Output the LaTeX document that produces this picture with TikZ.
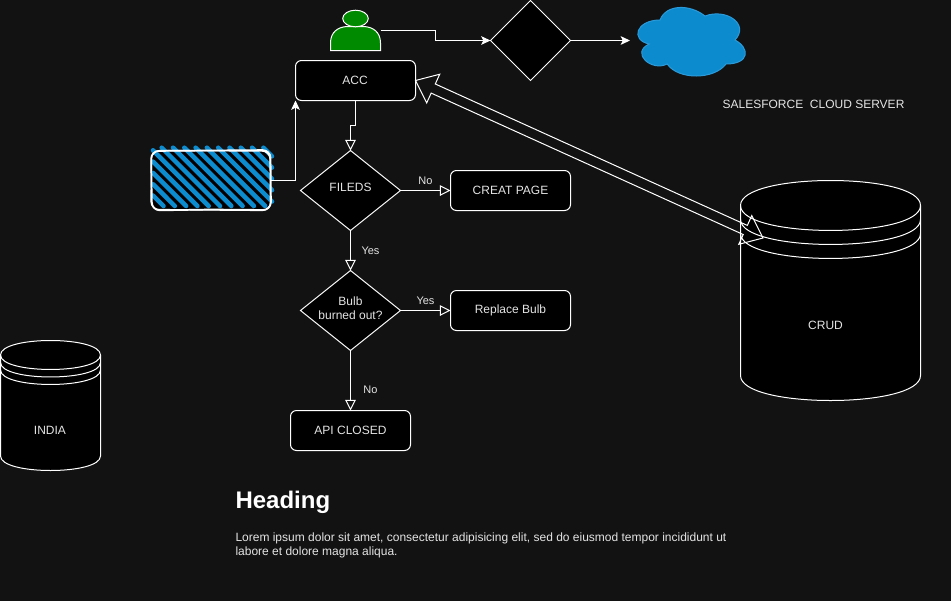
\documentclass[tikz,border=0pt]{standalone}
\usepackage{xcolor}
\usepackage{fontspec}
\setmainfont{Liberation Sans}
\usepackage{tikz}
\usetikzlibrary{arrows.meta, calc, shapes.geometric}
\definecolor{pagebg}{HTML}{121212}
\definecolor{labeltext}{HTML}{E4E4E4}
\definecolor{hatchblue}{HTML}{0C8CCF}
\definecolor{cloudline}{HTML}{2A9ADA}
\definecolor{usergreen}{HTML}{008A00}
\newcommand{\dbshape}[6]{
\begin{scope}[shift={(#1,#2)}]
\draw[dbline] (0,#5) .. controls (0,-#5/3) and (#3,-#5/3) .. (#3,#5) -- (#3,#4-#5) .. controls (#3,#4+#5/3) and (0,#4+#5/3) .. (0,#4-#5) -- cycle;
\foreach \n in {0,1,2}
  \draw[dbline, fill=none] (0,#5+\n*#6) .. controls (0,#5*2.33+\n*#6) and (#3,#5*2.33+\n*#6) .. (#3,#5+\n*#6);
\end{scope}
}

\begin{document}
\begin{tikzpicture}[x=.75pt, y=-.75pt, line width=.75pt]
\tikzstyle{txt}=[text=labeltext, font=\fontsize{9}{10.5}\selectfont, inner sep=0pt]
\tikzstyle{elabel}=[text=labeltext, font=\fontsize{8.25}{9.5}\selectfont, inner sep=0pt]
\tikzstyle{stepbox}=[txt, rectangle, rounded corners=4.5pt, draw=white, fill=black, minimum width=90pt, minimum height=30pt, outer sep=0pt]
\tikzstyle{decision}=[diamond, draw=white, fill=black, minimum width=75pt, minimum height=60pt, inner sep=0pt, outer sep=0pt]
\tikzstyle{dtext}=[txt, align=center, yshift=2pt]
\tikzstyle{dbline}=[draw=white, fill=black]
\tikzstyle{flow}=[-{Triangle[open, length=8pt, width=8pt]}, draw=white]
\tikzstyle{solidflow}=[-{Stealth[length=7pt, width=6.5pt, inset=1.6pt]}, draw=white, fill=none]
\tikzstyle{flexline}=[draw=white, line join=miter]

\fill[pagebg] (0,0) rectangle (951,601);
\useasboundingbox (0,0) rectangle (951,601);

\dbshape{740.5}{180.5}{180}{220}{25}{14}
\dbshape{0.5}{340.5}{100}{130}{14.5}{7.5}

\node[txt] (crud) at (825.5,325) {CRUD};
\node[txt] (india) at (50,430) {INDIA};

\node[stepbox] (acc) at (355.5,80.5) {\hspace{-.75pt}ACC};
\node[stepbox] (creat) at (510.5,190.5) {CREAT PAGE};
\node[stepbox] (replace) at (510.5,310.5) {Replace Bulb};
\node[stepbox] (api) at (350.5,430.5) {API CLOSED};
\node[decision, label={[dtext]center:FILEDS}] (fileds) at (350.5,190.5) {};
\node[decision, label={[dtext]center:{Bulb\\burned out?}}] (bulb) at (350.5,310.5) {};
\node[decision, minimum width=60pt] (gate) at (530.5,40.5) {};

\node[rectangle, minimum width=37.5pt, minimum height=30pt, inner sep=0pt, outer sep=0pt] (user) at (355.5,30.5) {};
\draw[draw=white, fill=usergreen] (330.5,50.5) -- (330.5,43) .. controls (330.5,32) and (338,27) .. (347,26.5) -- (364,26.5) .. controls (373,27) and (380.5,32) .. (380.5,43) -- (380.5,50.5) -- cycle;
\draw[draw=white, fill=usergreen] (355.5,18.5) ellipse [x radius=12.8, y radius=8.3];

\node[rectangle, minimum width=90pt, minimum height=60pt, inner sep=0pt, outer sep=0pt] (cloud) at (690,40.5) {};
\draw[draw=cloudline, fill=hatchblue] (660,20) .. controls (636,20) and (630,40) .. (649.2,44) .. controls (630,52.8) and (651.6,72) .. (667.2,64) .. controls (678,80) and (714,80) .. (726,64) .. controls (750,64) and (750,48) .. (735,40) .. controls (750,24) and (726,8) .. (705,16) .. controls (690,4) and (666,4) .. (660,20) -- cycle;

\node[rectangle, minimum width=90pt, minimum height=45pt, inner sep=0pt, outer sep=0pt] (sketch) at (210.5,180.5) {};
\fill[black, rounded corners=5pt] (151,150.5) rectangle (270.5,210);
\foreach \k in {-5,...,9} {
  \pgfmathsetmacro\cc{14+11.3*\k}
  \pgfmathsetmacro\sx{max(153,\cc+147.7)}
  \pgfmathsetmacro\ex{min(272,\cc+206)}
  \draw[hatchblue, line width=3.4pt, line cap=round] (\sx,\sx-\cc) -- (\ex,\ex-\cc);
}
\draw[white, line width=1.3pt, rounded corners=6pt] (151,151) -- (210,150.5) -- (270.5,150) -- (271,210) -- (210,209.5) -- (152,210.5) -- cycle;
\draw[white, line width=1pt, rounded corners=6pt] (151.5,150.5) -- (270,151) -- (270.5,210.5) -- (151,209.5) -- cycle;

\path
(fileds) edge[flow] node[elabel, yshift=7.5pt] {No} (creat)
         edge[flow] node[elabel, xshift=15pt] {Yes} (bulb)
(bulb) edge[flow] node[elabel, yshift=7.5pt] {Yes} (replace)
       edge[flow] node[elabel, xshift=15pt, yshift=-7pt] {No} (api);

\draw[flow] (acc.south) -- ++(0,25) -| (fileds.north);
\draw[solidflow] (sketch.east) -| (acc.south west);
\draw[solidflow] (user.east) -- ++(55,0) |- (gate.west);
\draw[solidflow] (gate.east) -- (cloud.west);

\coordinate (crudtip) at (763,238);
\coordinate (heada) at ($(acc.east)!14.6pt!(crudtip)$);
\coordinate (headb) at ($(crudtip)!14.6pt!(acc.east)$);
\draw[flexline] (acc.east) -- ($(heada)!11.8pt!90:(crudtip)$) -- ($(heada)!3.75pt!90:(crudtip)$) -- ($(headb)!3.75pt!-90:(acc.east)$) -- ($(headb)!11.8pt!-90:(acc.east)$) -- (crudtip) -- ($(headb)!11.8pt!90:(acc.east)$) -- ($(headb)!3.75pt!90:(acc.east)$) -- ($(heada)!3.75pt!-90:(crudtip)$) -- ($(heada)!11.8pt!-90:(crudtip)$) -- cycle;

\node[txt] (salesforce) at (813.5,104.5) {SALESFORCE\ \ CLOUD SERVER};
\node[anchor=west, inner sep=0pt, text=white, font=\fontsize{18}{21}\selectfont\bfseries] (heading) at (235,502) {Heading};
\node[anchor=north west, txt, align=left] (lorem) at (235,532.5) {Lorem ipsum dolor sit amet, consectetur adipisicing elit, sed do eiusmod tempor incididunt ut\\labore et dolore magna aliqua.};
\end{tikzpicture}
\end{document}
